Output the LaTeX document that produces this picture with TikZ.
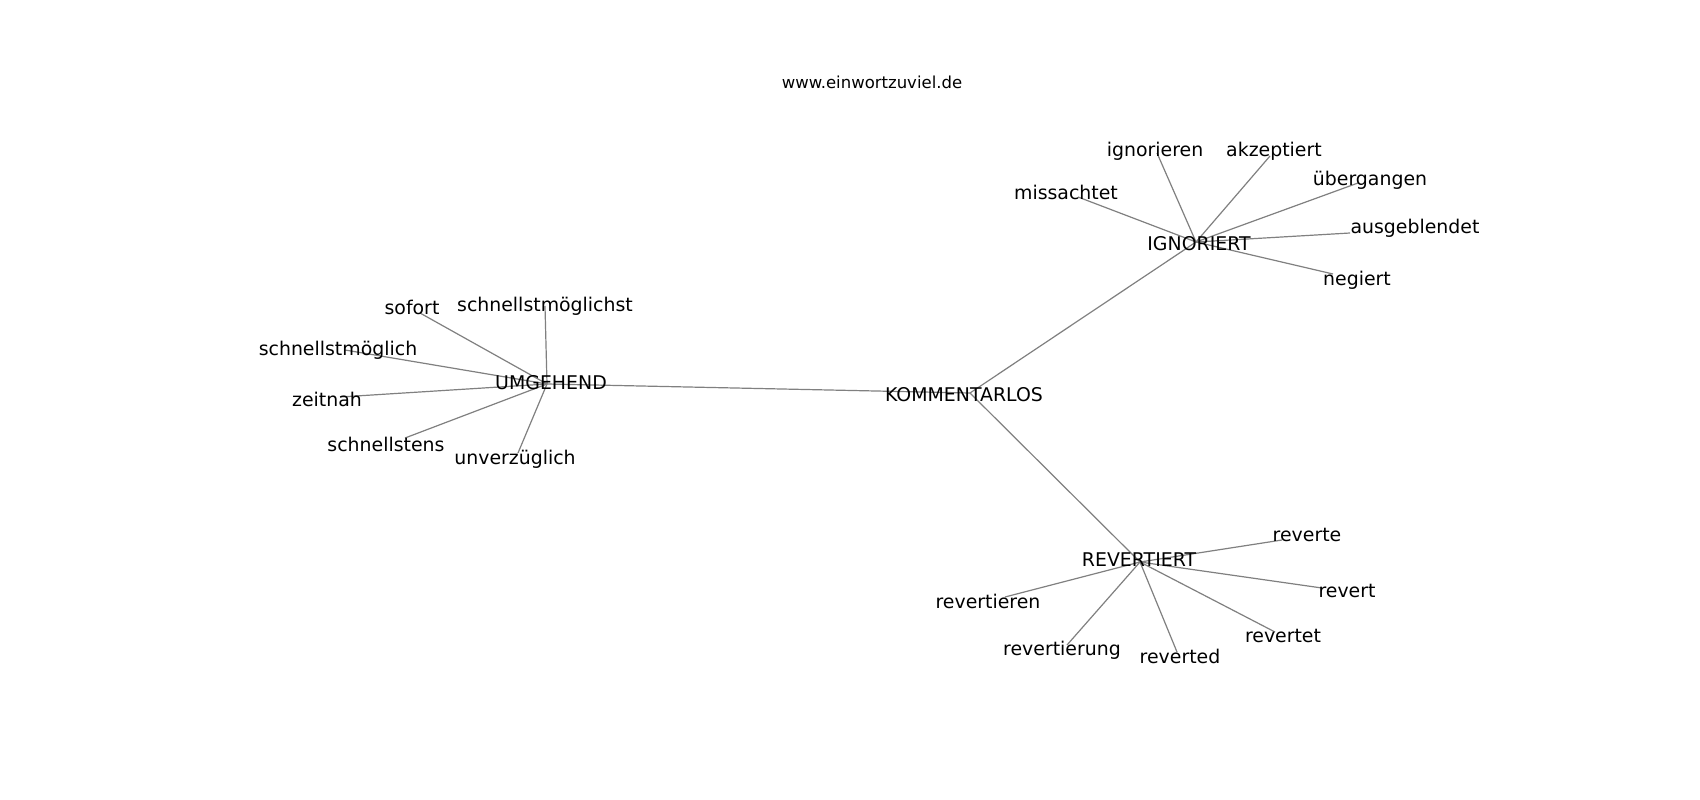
\documentclass[tikz,border=0pt]{standalone}
\usepackage{fontspec}
\setmainfont{DejaVu Sans}
\begin{document}
\begin{tikzpicture}[x=1pt,y=-1pt,
  lbl/.style={inner sep=0pt,text height=0.74em,text depth=0pt,anchor=center,yshift=-3.5pt,font=\fontsize{18.9}{20}\selectfont},
  ttl/.style={inner sep=0pt,text height=0.74em,text depth=0pt,anchor=center,yshift=-2.5pt,font=\fontsize{16.5}{18}\selectfont},
  edge/.style={draw=black!50,line width=1.2pt}]
\useasboundingbox (0,0) rectangle (1700,800);
\fill[white] (0,0) rectangle (1700,800);
% anchor points of the edges
\coordinate (cK) at (970,393);
\coordinate (cU) at (547,384);
\coordinate (cI) at (1196,242);
\coordinate (cR) at (1140,562);
\coordinate (c1) at (420,313);
\coordinate (c2) at (545,306);
\coordinate (c3) at (345,350);
\coordinate (c4) at (340,397);
\coordinate (c5) at (405,438);
\coordinate (c6) at (518,453);
\coordinate (c7) at (1078,197);
\coordinate (c8) at (1157,153);
\coordinate (c9) at (1270,156);
\coordinate (c10) at (1358,183);
\coordinate (c11) at (1350,233);
\coordinate (c12) at (1333,274);
\coordinate (c13) at (1282,540);
\coordinate (c14) at (1322,588);
\coordinate (c15) at (1275,632);
\coordinate (c16) at (1177,652);
\coordinate (c17) at (1067,645);
\coordinate (c18) at (1005,597);
% edges
\path[edge] (cK) -- (cU);
\path[edge] (cK) -- (cI);
\path[edge] (cK) -- (cR);
\foreach \i in {1,...,6} {\path[edge] (cU) -- (c\i);}
\foreach \i in {7,...,12} {\path[edge] (cI) -- (c\i);}
\foreach \i in {13,...,18} {\path[edge] (cR) -- (c\i);}
% labels
\node[ttl] (title) at (872,82) {www.einwortzuviel.de};
\node[lbl] (K) at (964,394) {KOMMENTARLOS};
\node[lbl] (U) at (551,382) {UMGEHEND};
\node[lbl] (I) at (1199,243) {IGNORIERT};
\node[lbl] (R) at (1139,559) {REVERTIERT};
\node[lbl] (n1) at (412,307) {sofort};
\node[lbl] (n2) at (545,304) {schnellstmöglichst};
\node[lbl] (n3) at (338,348) {schnellstmöglich};
\node[lbl] (n4) at (327,399) {zeitnah};
\node[lbl] (n5) at (386,444) {schnellstens};
\node[lbl] (n6) at (515,457) {unverzüglich};
\node[lbl] (n7) at (1066,192) {missachtet};
\node[lbl] (n8) at (1155,149) {ignorieren};
\node[lbl] (n9) at (1274,149) {akzeptiert};
\node[lbl] (n10) at (1370,178) {übergangen};
\node[lbl] (n11) at (1415,226) {ausgeblendet};
\node[lbl] (n12) at (1357,278) {negiert};
\node[lbl] (n13) at (1307,534) {reverte};
\node[lbl] (n14) at (1347,590) {revert};
\node[lbl] (n15) at (1283,635) {revertet};
\node[lbl] (n16) at (1180,656) {reverted};
\node[lbl] (n17) at (1062,648) {revertierung};
\node[lbl] (n18) at (988,601) {revertieren};
\end{tikzpicture}
\end{document}
